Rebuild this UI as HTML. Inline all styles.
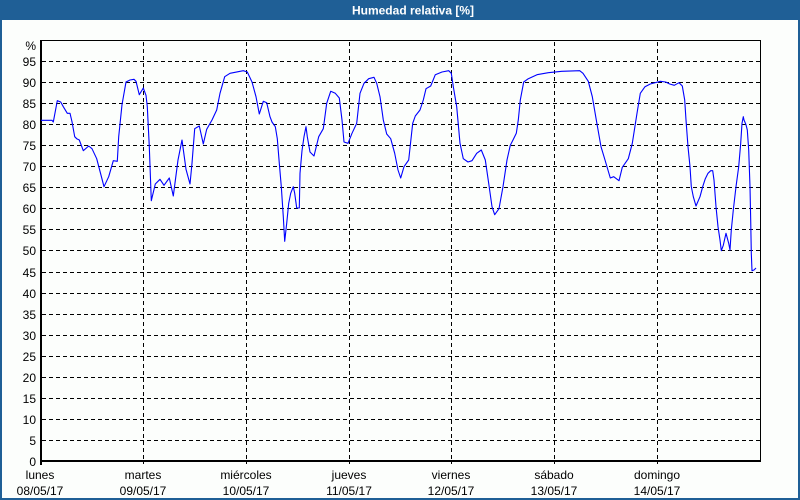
<!DOCTYPE html>
<html>
<head>
<meta charset="utf-8">
<style>
html,body{margin:0;padding:0;width:800px;height:500px;overflow:hidden;background:#fcfefc;}
svg{display:block;}
text{font-family:"Liberation Sans",Arial,sans-serif;font-size:12px;fill:#000;}
</style>
</head>
<body>
<svg width="800" height="500" viewBox="0 0 800 500" xmlns="http://www.w3.org/2000/svg">
  <rect x="0" y="0" width="800" height="500" fill="#fcfefc"/>
  <!-- borders -->
  <rect x="0" y="0" width="800" height="20" fill="#1f5f96"/>
  <rect x="0" y="0" width="2" height="500" fill="#1f5f96"/>
  <rect x="798" y="0" width="2" height="500" fill="#1f5f96"/>
  <rect x="0" y="498" width="800" height="2" fill="#1f5f96"/>
  <text x="413" y="14.5" text-anchor="middle" style="font-weight:bold;fill:#ffffff;font-size:12px;">Humedad relativa [%]</text>

  <!-- horizontal grid -->
  <g stroke="#000" stroke-width="1" stroke-dasharray="4,3" shape-rendering="crispEdges">
    <line x1="42" y1="61.5" x2="760" y2="61.5"/>
    <line x1="42" y1="82.5" x2="760" y2="82.5"/>
    <line x1="42" y1="103.5" x2="760" y2="103.5"/>
    <line x1="42" y1="124.5" x2="760" y2="124.5"/>
    <line x1="42" y1="145.5" x2="760" y2="145.5"/>
    <line x1="42" y1="166.5" x2="760" y2="166.5"/>
    <line x1="42" y1="187.5" x2="760" y2="187.5"/>
    <line x1="42" y1="208.5" x2="760" y2="208.5"/>
    <line x1="42" y1="229.5" x2="760" y2="229.5"/>
    <line x1="42" y1="250.5" x2="760" y2="250.5"/>
    <line x1="42" y1="272.5" x2="760" y2="272.5"/>
    <line x1="42" y1="293.5" x2="760" y2="293.5"/>
    <line x1="42" y1="314.5" x2="760" y2="314.5"/>
    <line x1="42" y1="335.5" x2="760" y2="335.5"/>
    <line x1="42" y1="356.5" x2="760" y2="356.5"/>
    <line x1="42" y1="377.5" x2="760" y2="377.5"/>
    <line x1="42" y1="398.5" x2="760" y2="398.5"/>
    <line x1="42" y1="419.5" x2="760" y2="419.5"/>
    <line x1="42" y1="440.5" x2="760" y2="440.5"/>
  </g>
  <!-- vertical grid -->
  <g stroke="#000" stroke-width="1" stroke-dasharray="4,3" shape-rendering="crispEdges">
    <line x1="143.5" y1="42" x2="143.5" y2="464"/>
    <line x1="246.5" y1="42" x2="246.5" y2="464"/>
    <line x1="349.5" y1="42" x2="349.5" y2="464"/>
    <line x1="451.5" y1="42" x2="451.5" y2="464"/>
    <line x1="554.5" y1="42" x2="554.5" y2="464"/>
    <line x1="657.5" y1="42" x2="657.5" y2="464"/>
  </g>

  <!-- frame -->
  <g stroke="#000" fill="none" shape-rendering="crispEdges">
    <line x1="40" y1="40.5" x2="761" y2="40.5" stroke-width="1"/>
    <line x1="760.5" y1="40" x2="760.5" y2="462" stroke-width="1"/>
    <line x1="41" y1="40" x2="41" y2="465" stroke-width="2"/>
    <line x1="40" y1="461" x2="761" y2="461" stroke-width="2"/>
  </g>

  <!-- series -->
  <polyline fill="none" stroke="#0000ff" stroke-width="1.1" stroke-linejoin="round" points="
41,120.3 52,120.3 53.3,122 57.3,100.7 60.7,102 63.3,106.7 67.3,113.3 70,113.3 72,121.7 74.7,136.7 76.7,138.7 79.3,140 83.3,150.7 88.7,146 92,148.7 96.7,158.7 100,171.3 104,186.7 108.7,176.7 113.3,160.7 117.3,161.3 118.7,136.7 122,104.7 126,82 130,80 134,79.3 136,81.3 139.3,94.7 143.3,88 146,95.3 147.3,106.7 149.3,146.7 151.3,200.7 155.3,184 160,179.3 164,185.3 169.3,178 173.3,196 178,160 182,140 186,169.3 190,184 192,163.3 194.7,128.7 199.3,126 203.3,144 206.7,129.3 212,120 216.7,110 220,93.3 224.7,76.7 230,73.3 243.3,70.7 247.3,72 252,82 256,96.7 259.3,114 263.3,101.3 266.7,102.7 270,116.7 272,122 275.3,126.7 277.3,138.7 279.3,163.3 281.3,186.7 283.3,216.7 284.7,241.3 286.7,223.3 288.7,203.3 290.7,193.3 293.3,186.7 294.7,193.3 296.7,208 299.3,208 300,173.3 302,150.7 304,136.7 306,126.7 307.3,136.7 310,152 314,156 318.7,136.7 323.3,128.7 326.7,103.3 330.7,91.3 335.3,93.3 339.3,98 342,120 344,142 348,143.3 352,133.3 356.7,123.3 360,93.3 364,83.3 368.7,78.7 374,77.3 376.7,83.3 380,96.7 383.3,120 386.7,134 390.7,138.7 394.7,153.3 398,170 400.7,178 404,166.7 408.7,160 412.7,123.3 415.3,116 420,110 423.3,100 426,88.7 430.7,86 435.3,74.7 442,72 448.7,70.7 451.3,73.3 453.3,86.7 456.7,106.7 460,143.3 463.3,158.7 468,162 472,160.7 476.7,153.3 481.3,150 485.3,160 488.7,183.3 492,206.7 494.7,214.7 499,208.7 503,186.7 507,160 510.3,145.3 513,140 516.3,133.3 518.3,120 520.3,100 523.7,82 528.3,78.7 537,74.7 548.3,72.7 561.7,71.3 579.7,70.7 583,73.3 588.3,81.3 592.3,96.7 596.3,120 601,146.7 605,160 610.3,178 613.7,176.7 619,180.7 622.3,167.3 628.3,158.7 632.3,143.3 637,113.3 640.3,93.3 645,86.7 650.3,84 660.3,81.3 665.7,82 669.7,84 674.3,85.3 679,82.7 682.3,86 684.7,100 686,120 688,146.7 690,166.7 691.3,186.7 693.3,196.7 696,206 700,196.7 702.7,186.7 705.3,178.7 708,173.3 710.7,170.7 712.7,170.7 714,180 716,206.7 718,226.7 720,240 721.3,250.7 723.3,245.3 726,233.3 728.7,243.3 730,250 731.3,230 733.3,210 736,186.7 738.7,166.7 740.7,143.3 742,123.3 743.3,116.7 744,120 746,124.7 747.3,130 748.7,150 750,186.7 750.7,220 751.3,253.3 752,270.7 754,270 756,268"/>

  <!-- y labels -->
  <g text-anchor="end">
    <text x="36" y="50">%</text>
    <text x="36" y="66">95</text>
    <text x="36" y="87">90</text>
    <text x="36" y="108">85</text>
    <text x="36" y="129">80</text>
    <text x="36" y="150">75</text>
    <text x="36" y="171">70</text>
    <text x="36" y="192">65</text>
    <text x="36" y="213">60</text>
    <text x="36" y="234">55</text>
    <text x="36" y="255">50</text>
    <text x="36" y="277">45</text>
    <text x="36" y="298">40</text>
    <text x="36" y="319">35</text>
    <text x="36" y="340">30</text>
    <text x="36" y="361">25</text>
    <text x="36" y="382">20</text>
    <text x="36" y="403">15</text>
    <text x="36" y="424">10</text>
    <text x="36" y="445">5</text>
    <text x="36" y="466">0</text>
  </g>

  <!-- x labels -->
  <g text-anchor="middle">
    <text x="40" y="479">lunes</text>
    <text x="40" y="495">08/05/17</text>
    <text x="143" y="479">martes</text>
    <text x="143" y="495">09/05/17</text>
    <text x="246" y="479">miércoles</text>
    <text x="246" y="495">10/05/17</text>
    <text x="349" y="479">jueves</text>
    <text x="349" y="495">11/05/17</text>
    <text x="451" y="479">viernes</text>
    <text x="451" y="495">12/05/17</text>
    <text x="554" y="479">sábado</text>
    <text x="554" y="495">13/05/17</text>
    <text x="657" y="479">domingo</text>
    <text x="657" y="495">14/05/17</text>
  </g>
</svg>
</body>
</html>
